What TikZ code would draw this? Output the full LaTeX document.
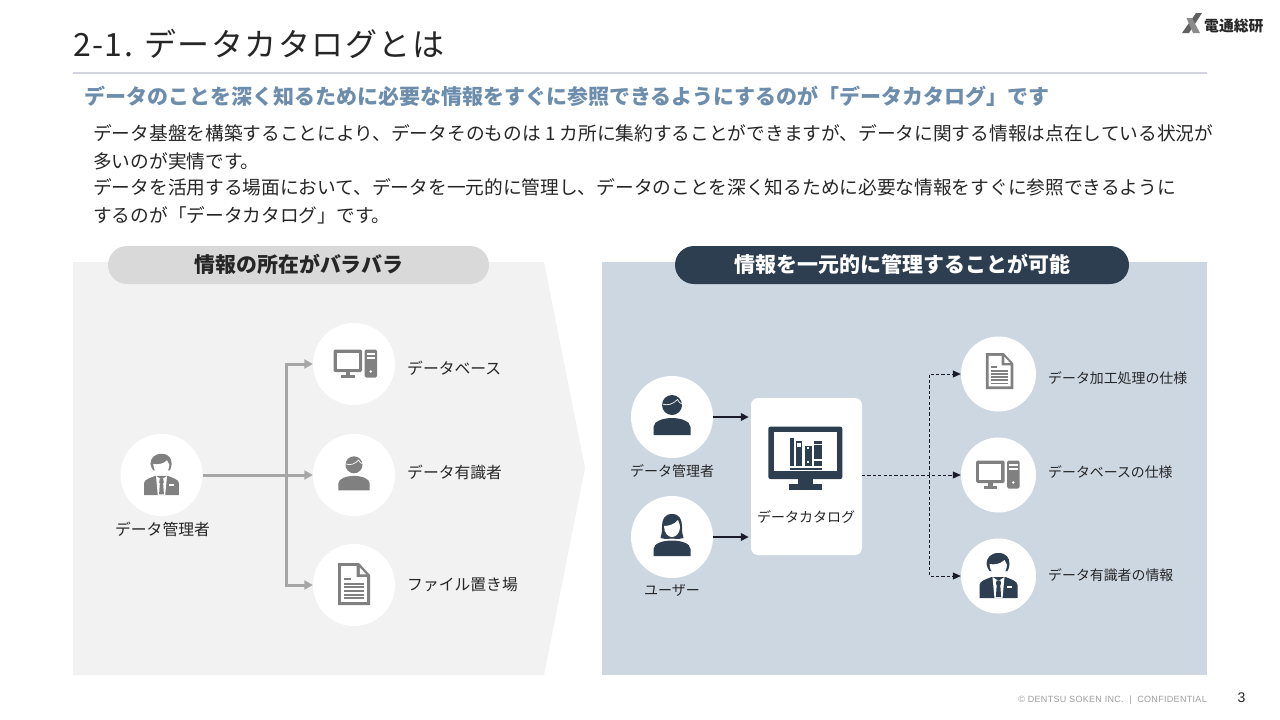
\documentclass[tikz,border=0pt]{standalone}
\usepackage{fontspec}
\setmainfont{Noto Sans CJK JP}
\newfontfamily\latinfont{Liberation Sans}
\usetikzlibrary{arrows.meta,calc}
\definecolor{panelL}{HTML}{F2F2F2}
\definecolor{panelR}{HTML}{CDD7E2}
\definecolor{navy}{HTML}{2C3E50}
\definecolor{iconG}{HTML}{808080}
\definecolor{inkT}{HTML}{262626}
\definecolor{subT}{HTML}{6D8DAD}
\definecolor{arrG}{HTML}{A6A6A6}
\definecolor{arrK}{HTML}{1A1A2A}
\definecolor{ruleC}{HTML}{D2D5E0}
\tikzset{
  x=1pt,y=-1pt,
  disc/.style={circle,fill=white,inner sep=0pt,minimum size=#1},
  lab/.style={anchor=west,inner sep=0pt,text=inkT,font=\fontsize{#1}{#1}\selectfont},
  labc/.style={anchor=center,inner sep=0pt,text=inkT,font=\fontsize{#1}{#1}\selectfont},
  body/.style={anchor=west,inner sep=0pt,text=inkT,font=\fontsize{18.7}{22}\selectfont},
  pill/.style={rounded corners=19pt,minimum height=38pt,inner sep=0pt},
  grayarrow/.style={draw=arrG,line width=3pt,-{Triangle[length=8.5pt,width=9pt]}},
  grayline/.style={draw=arrG,line width=3pt},
  darkarrow/.style={draw=arrK,line width=1.9pt,shorten >=2pt,-{Triangle[length=8pt,width=7.5pt]}},
  dasharrow/.style={draw=arrK,line width=.8pt,dash pattern=on 3.2pt off 2.2pt,-{Triangle[length=8pt,width=7pt,fill=arrK]}},
}
% #1 centre, #2 scale, #3 colour, #4 background
\newcommand\iconperson[4]{\begin{scope}[shift={(#1)},scale=#2]
  \fill[#3] (0,-12) circle (10);
  \fill[#3] (-18.5,18) -- (-18.5,10) .. controls (-18.5,4) and (-8,1) .. (0,1)
     .. controls (8,1) and (18.5,4) .. (18.5,10) -- (18.5,18) -- cycle;
  \draw[#4,line width=.7pt] (-9.5,-13) .. controls (-4,-11) and (1,-13) .. (5.5,-17.5) .. controls (6.5,-15) and (8,-14) .. (10,-13);
\end{scope}}
\newcommand\iconwoman[4]{\begin{scope}[shift={(#1)},scale=#2]
  \fill[#3] (-18.5,19) -- (-18.5,12) .. controls (-18.5,6) and (-8,3.5) .. (0,3.5)
     .. controls (8,3.5) and (18.5,6) .. (18.5,12) -- (18.5,19) -- cycle;
  \fill[#3] (0,-23) .. controls (-8,-23) and (-10,-17) .. (-10,-10) .. controls (-10,-5) and (-10.5,-2) .. (-11.5,1)
     .. controls (-8,2.5) and (-6,2) .. (0,1.5) .. controls (6,2) and (8,2.5) .. (11.5,1)
     .. controls (10.5,-2) and (10,-5) .. (10,-10) .. controls (10,-17) and (8,-23) .. (0,-23) -- cycle;
  \fill[#4] (-8,-11) .. controls (-3,-11) and (3,-13) .. (6,-17) .. controls (7,-14) and (8,-13) .. (8,-10)
     .. controls (8,-4) and (4,0) .. (0,0) .. controls (-4,0) and (-8,-4) .. (-8,-11) -- cycle;
\end{scope}}
\newcommand\iconsuit[4]{\begin{scope}[shift={(#1)},scale=#2]
  \fill[#3] (-19,22) -- (-19,9) .. controls (-19,5) and (-12,3) .. (-7,1) -- (7,1) .. controls (12,3) and (19,5) .. (19,9) -- (19,22) -- cycle;
  \fill[#4] (-6,1) -- (0,5) -- (6,1) -- (4,22) -- (-4,22) -- cycle;
  \fill[#3] (-2,4.5) -- (2,4.5) -- (2.5,8) -- (1.8,9) -- (2.6,21) -- (-2.6,21) -- (-1.8,9) -- (-2.5,8) -- cycle;
  \fill[#3] (0,-23) .. controls (-8,-23) and (-12,-18) .. (-12,-12) .. controls (-12,-9) and (-10,-7) .. (-9,-5)
     -- (9,-5) .. controls (10,-7) and (11,-9) .. (11,-12) .. controls (11,-18) and (8,-23) .. (0,-23) -- cycle;
  \fill[#4] (-9,-12) .. controls (-4,-11) and (2,-12) .. (6,-16) .. controls (7,-14) and (8,-13) .. (8.5,-11)
     .. controls (8.5,-5) and (4,0) .. (0,0) .. controls (-4,0) and (-9,-5) .. (-9,-12) -- cycle;
  \fill[#4] (8.5,10.2) rectangle (13.5,11.5);
\end{scope}}
\newcommand\iconpc[4]{\begin{scope}[shift={(#1)},scale=#2]
  \fill[#3,rounded corners=1.5pt] (-22.5,-14.5) rectangle (6,8);
  \fill[#4] (-19.3,-11.3) rectangle (2.8,4.8);
  \fill[#3] (-10.5,8) rectangle (-6,11);
  \fill[#3] (-15,10.5) rectangle (-1.5,13.5);
  \fill[#3,rounded corners=1.5pt] (8.7,-14.5) rectangle (21,13.5);
  \fill[#4] (10.5,-11.2) rectangle (19.2,-9.2);
  \fill[#4] (10.5,-7) rectangle (19.2,-5);
  \fill[#4] (14.8,7.5) circle (1.4);
\end{scope}}
\newcommand\icondoc[4]{\begin{scope}[shift={(#1)},scale=#2]
  \fill[#3] (-16,-22) -- (5,-22) -- (16,-10) -- (16,20) -- (-16,20) -- cycle;
  \fill[#4] (-12.8,-18.8) -- (2.6,-18.8) -- (2.6,-7.8) -- (12.8,-7.8) -- (12.8,16.8) -- (-12.8,16.8) -- cycle;
  \fill[#4] (5.8,-17.5) -- (12.2,-10.6) -- (5.8,-10.6) -- cycle;
  \fill[#3] (-10,-6.6) rectangle (-3.4,-5);
  \foreach \yy in {-2.4,1.3,5,8.7,12.4}{\fill[#3] (-10,\yy) rectangle (10,\yy+1.9);}
\end{scope}}
\begin{document}
\begin{tikzpicture}
\useasboundingbox (0,0) rectangle (1280,720);
\fill[white] (0,0) rectangle (1280,720);

% header
\node[lab=32,text=inkT,anchor=west] (title) at (73,44) {\addfontfeatures{LetterSpace=4.5}2-1. データカタログとは};
\fill[ruleC] (73,72) rectangle (1207,74);
\node[lab=21,text=subT,anchor=west] (sub) at (84,96) {\bfseries データのことを深く知るために必要な情報をすぐに参照できるようにするのが「データカタログ」です};
\node[body] (l1) at (93,133) {データ基盤を構築することにより、データそのものは 1 カ所に集約することができますが、データに関する情報は点在している状況が};
\node[body] (l2) at (93,161) {多いのが実情です。};
\node[body] (l3) at (93,187) {データを活用する場面において、データを一元的に管理し、データのことを深く知るために必要な情報をすぐに参照できるように};
\node[body] (l4) at (93,215) {するのが「データカタログ」です。};

% logo
\fill[black!62] (1182,33) -- (1196,13) -- (1202,13) -- (1189,33) -- cycle;
\fill[black!45] (1186.5,18) -- (1192,18) -- (1200,33) -- (1193,33) -- cycle;
\node[lab=14.8,anchor=west] (logo) at (1204,25.5) {\bfseries 電通総研};

% panels
\fill[panelL] (73,262) -- (544,262) -- (585,468) -- (544,675) -- (73,675) -- cycle;
\fill[panelR] (602,262) rectangle (1207,675);
\node[pill,fill=black!15,minimum width=381pt] (pillL) at (298.5,265) {};
\node[pill,fill=navy,minimum width=454pt] (pillR) at (902,265) {};
\node[labc=20.9,text=inkT,font=\fontsize{20.9}{21}\selectfont\bfseries] (tpillL) at (299,264) {情報の所在がバラバラ};
\node[labc=21,text=white,font=\fontsize{21}{21}\selectfont\bfseries] (tpillR) at (902.5,264) {情報を一元的に管理することが可能};

% left discs
\node[disc=82pt] (lp) at (161.5,475) {};
\node[disc=82pt] (ldb) at (354,364) {};
\node[disc=82pt] (lex) at (354,475) {};
\node[disc=82pt] (lfile) at (354,585) {};
\iconsuit{lp}{.92}{iconG}{white}
\iconpc{$(ldb)+(2,0)$}{1}{iconG}{white}
\iconperson{lex}{.85}{iconG}{white}
\icondoc{lfile}{1}{iconG}{white}
\node[labc=15.8] (tlp) at (162.5,529) {データ管理者};
\node[lab=15.8] (tdb) at (407,368.5) {データベース};
\node[lab=15.8] (tex) at (407,472) {データ有識者};
\node[lab=15.8] (tfile) at (407,584.5) {ファイル置き場};

% left connectors
\coordinate (lb) at (286,475);
\draw[grayline] (lp.east) -- (lb);
\draw[grayarrow] (lb) |- (ldb.west);
\draw[grayarrow] (lb) -- (lex.west);
\draw[grayarrow] (lb) |- (lfile.west);

% right discs
\node[disc=82pt] (rm) at (672,417) {};
\node[disc=82pt] (ru) at (672,537) {};
\node[fill=white,rounded corners=7pt,minimum width=111pt,minimum height=157pt,inner sep=0pt] (cat) at (806.5,476.5) {};
\node[disc=75pt] (rdoc) at (998.5,374) {};
\node[disc=75pt] (rdb) at (998.5,475) {};
\node[disc=75pt] (rex) at (998.5,576) {};
\iconperson{rm}{1}{navy}{white}
\iconwoman{ru}{1}{navy}{white}
\icondoc{$(rdoc)+(1,-2)$}{.86}{iconG}{white}
\iconpc{rdb}{1}{iconG}{white}
\iconsuit{rex}{1}{navy}{white}
\node[labc=14] (trm) at (672,471.5) {データ管理者};
\node[labc=14] (tru) at (672,590.5) {ユーザー};
\node[labc=14] (tcat) at (806,517.5) {データカタログ};
\node[lab=13.9] (trdoc) at (1048,378) {データ加工処理の仕様};
\node[lab=13.9] (trdb) at (1048,472) {データベースの仕様};
\node[lab=13.9] (trex) at (1048,575) {データ有識者の情報};

% catalogue monitor
\begin{scope}[shift={(620,370)},scale=1/3]
  \fill[navy,rounded corners=2pt] (445,170) rectangle (667,327);
  \fill[white] (462,187) rectangle (650,302);
  \fill[navy] (535,327) rectangle (578,343);
  \fill[navy] (506,343) rectangle (607,360);
  \fill[navy] (509,205) rectangle (522,288);
  \fill[navy] (527,212) rectangle (547,288);
  \fill[white] (531,219) rectangle (543,230);
  \fill[navy] (555,228) rectangle (575,288);
  \fill[white] (561,232) rectangle (568,238);
  \fill[white] (561,274) rectangle (568,280);
  \fill[navy] (581,212) rectangle (607,288);
  \fill[white] (581,222) rectangle (607,226);
  \fill[white] (581,268) rectangle (607,272);
  \fill[navy] (509,293) rectangle (607,301);
\end{scope}

% right connectors
\coordinate (catR) at (862,475);
\coordinate (rb) at (929,475);
\draw[darkarrow] (rm.east) -- (cat.west |- rm.east);
\draw[darkarrow] (ru.east) -- (cat.west |- ru.east);
\draw[dasharrow] (catR) -- (rdb.west);
\draw[dasharrow] (rb) |- (rdoc.west);
\draw[dasharrow] (rb) |- (rex.west);

% footer
\node[anchor=east,inner sep=0pt,text=black!38,font=\latinfont\fontsize{9}{9}\selectfont] (foot) at (1207,700) {\addfontfeatures{LetterSpace=3.5}© DENTSU SOKEN INC. ~|~ CONFIDENTIAL};
\node[inner sep=0pt,text=inkT,font=\latinfont\fontsize{14}{14}\selectfont] (page) at (1241.5,698) {3};
\end{tikzpicture}
\end{document}
